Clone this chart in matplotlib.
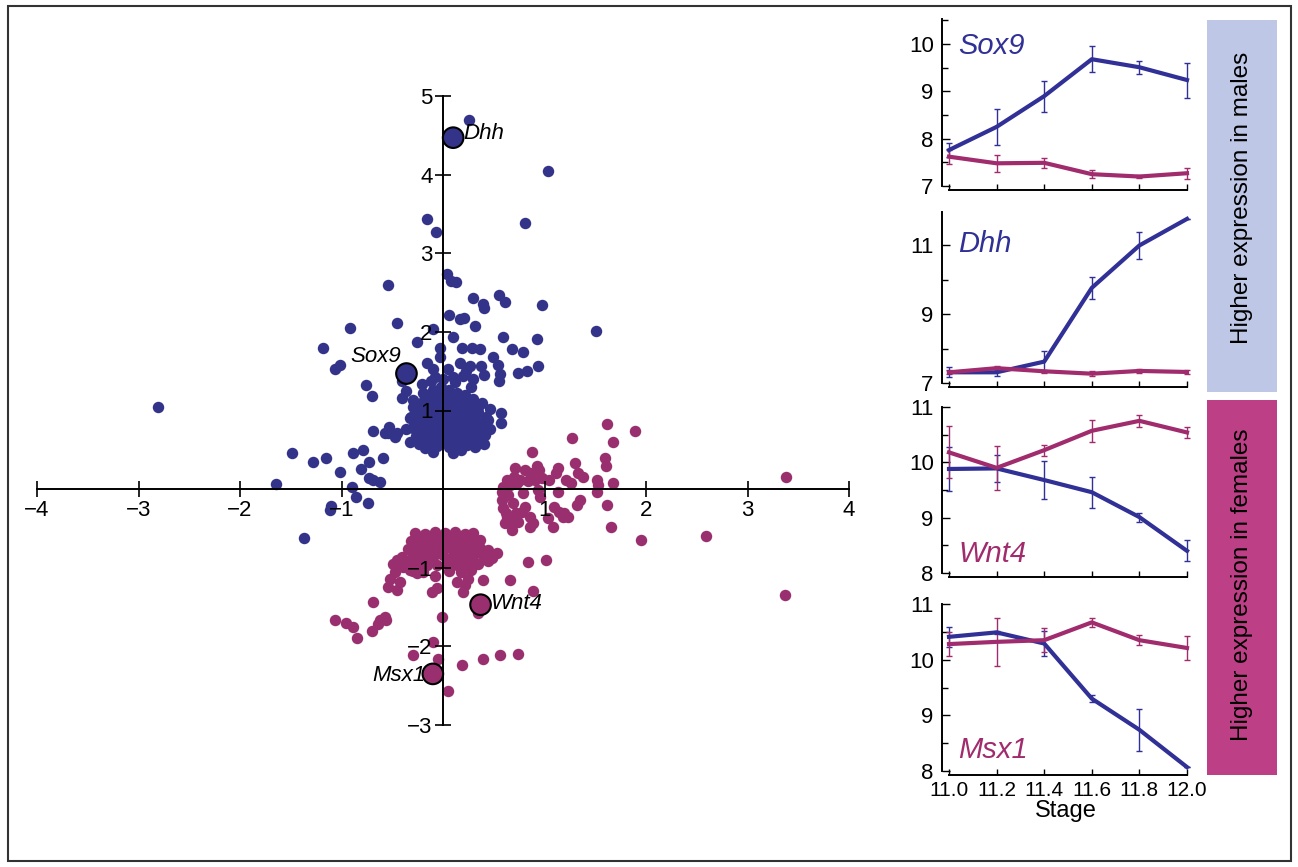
import matplotlib
matplotlib.use('Agg')
import matplotlib.pyplot as plt
from matplotlib.patches import Rectangle

plt.rcParams['font.family'] = ['Liberation Sans', 'DejaVu Sans']

W, H = 1298, 867
BLUE = '#33338a'
MAGENTA = '#992f6e'
LINE_BLUE = '#303096'
LINE_MAG = '#a02c6e'

# scatter points (x, y)
blue_pts = [
    (0.26, 4.69), (1.03, 4.04), (-0.16, 3.44), (-0.07, 3.27), (0.81, 3.38),
    (-0.54, 2.60), (0.04, 2.74), (0.08, 2.65), (0.13, 2.64), (0.30, 2.43),
    (0.39, 2.36), (0.40, 2.30), (0.55, 2.47), (0.61, 2.38), (0.98, 2.34),
    (1.51, 2.01), (-0.92, 2.05), (-0.45, 2.11), (0.06, 2.21), (0.17, 2.16),
    (0.21, 2.18), (0.32, 2.08), (-0.10, 2.04), (0.10, 1.94), (-0.26, 1.87),
    (-1.18, 1.79), (-1.01, 1.58), (-1.06, 1.53), (0.59, 1.93), (0.93, 1.91),
    (0.68, 1.78), (0.79, 1.75), (0.19, 1.80), (0.29, 1.80), (0.36, 1.78),
    (-0.03, 1.80), (-0.03, 1.68), (0.49, 1.68), (0.54, 1.58), (0.56, 1.47),
    (0.55, 1.38), (0.94, 1.56), (0.74, 1.48), (0.83, 1.50), (-0.76, 1.33),
    (-0.70, 1.18), (0.57, 0.97), (0.57, 0.84), (-1.49, 0.46), (-1.28, 0.34),
    (-1.15, 0.39), (-0.89, 0.46), (-0.79, 0.50), (-0.73, 0.34), (-0.59, 0.39),
    (-1.01, 0.22), (-0.81, 0.25), (-0.73, 0.14), (-0.69, 0.11), (-0.62, 0.09),
    (-1.65, 0.06), (-0.90, 0.03), (-0.86, -0.10), (-0.74, -0.18), (-1.10, -0.22),
    (-1.11, -0.27), (-1.37, -0.62), (-2.81, 1.04), (-0.69, 0.74), (-0.54, 0.72),
    (-0.47, 0.66), (-0.33, 0.60), (0.17, 1.61), (0.27, 1.57), (0.37, 1.56),
    (0.40, 1.45), (0.23, 1.50), (0.05, 1.53), (0.10, 1.42), (-0.16, 1.61),
    (-0.10, 1.53), (-0.08, 1.42), (-0.40, 1.38), (-0.36, 1.25), (-0.40, 1.16),
    (-0.30, 1.13), (-0.21, 1.34), (-0.20, 1.22), (-0.53, 0.79), (-0.45, 0.71),
    (-0.57, 0.72), (-0.33, 0.91), (-0.30, 0.78),
    # dense core
    (-0.30, 1.05), (-0.22, 1.10), (-0.14, 1.15), (-0.06, 1.20), (0.02, 1.18),
    (0.10, 1.12), (0.18, 1.08), (0.26, 1.02), (0.34, 0.98), (0.42, 0.92),
    (-0.32, 0.92), (-0.24, 0.96), (-0.16, 1.00), (-0.08, 1.04), (0.00, 1.06),
    (0.08, 1.00), (0.16, 0.95), (0.24, 0.90), (0.32, 0.86), (0.40, 0.80),
    (-0.29, 0.80), (-0.22, 0.84), (-0.14, 0.88), (-0.06, 0.90), (0.02, 0.92),
    (0.10, 0.88), (0.18, 0.84), (0.26, 0.78), (0.34, 0.74), (0.41, 0.69),
    (-0.27, 0.68), (-0.20, 0.72), (-0.12, 0.76), (-0.04, 0.78), (0.04, 0.80),
    (0.12, 0.76), (0.20, 0.72), (0.28, 0.66), (0.36, 0.62), (-0.24, 0.58),
    (-0.16, 0.62), (-0.08, 0.64), (0.00, 0.66), (0.08, 0.64), (0.16, 0.60),
    (0.24, 0.56), (0.32, 0.54), (-0.18, 0.52), (-0.06, 0.55), (0.06, 0.54),
    (0.18, 0.50), (-0.02, 1.30), (0.06, 1.26), (0.14, 1.22), (-0.10, 1.26),
    (0.22, 1.20), (0.30, 1.14), (0.38, 1.10), (0.46, 1.02), (-0.12, 1.38),
    (0.00, 1.40), (0.12, 1.36), (0.28, 1.30), (0.44, 0.88), (0.46, 0.76),
    (0.40, 0.58), (0.10, 0.46), (-0.10, 0.47), (-0.36, 0.76), (0.20, 1.44),
    (0.30, 1.40),
    (-0.26, 1.00), (-0.18, 1.05), (-0.10, 1.10), (-0.02, 1.12), (0.06, 1.08),
    (0.14, 1.04), (0.22, 0.98), (0.30, 0.94), (0.38, 0.86), (-0.26, 0.88),
    (-0.18, 0.92), (-0.10, 0.96), (-0.02, 0.98), (0.06, 0.95), (0.14, 0.91),
    (0.22, 0.86), (0.30, 0.80), (0.38, 0.76), (-0.24, 0.76), (-0.16, 0.80),
    (-0.08, 0.83), (0.00, 0.85), (0.08, 0.83), (0.16, 0.79), (0.24, 0.74),
    (0.32, 0.70), (-0.20, 0.65), (-0.12, 0.69), (-0.04, 0.71), (0.04, 0.72),
    (0.12, 0.69), (0.20, 0.65), (0.28, 0.60), (-0.12, 0.58), (0.02, 0.60),
    (0.12, 0.57), (-0.04, 1.24), (0.08, 1.19), (0.18, 1.15), (0.26, 1.10),
    (0.34, 1.05),
]

magenta_pts = [
    (1.62, 0.83), (1.89, 0.74), (1.27, 0.65), (1.67, 0.60), (0.88, 0.47),
    (1.60, 0.39), (1.61, 0.30), (1.30, 0.33), (0.71, 0.27), (0.81, 0.24),
    (0.86, 0.20), (0.93, 0.30), (0.95, 0.24), (1.13, 0.27), (1.11, 0.20),
    (1.33, 0.20), (1.38, 0.15), (1.21, 0.11), (1.26, 0.08), (1.52, 0.11),
    (1.53, 0.05), (1.67, 0.08), (0.63, 0.11), (0.59, 0.03), (0.58, -0.04),
    (0.66, 0.05), (0.73, 0.08), (0.76, 0.11), (0.91, 0.11), (0.98, 0.14),
    (1.04, 0.11), (0.94, -0.01), (1.13, -0.04), (1.52, -0.04), (0.58, -0.14),
    (0.59, -0.24), (0.63, -0.36), (0.61, -0.43), (0.68, -0.52), (0.79, -0.05),
    (0.81, -0.23), (0.78, -0.29), (0.86, -0.36), (0.89, -0.43), (0.86, -0.48),
    (0.69, -0.18), (0.68, -0.39), (0.74, -0.42), (0.96, -0.10), (1.09, -0.23),
    (1.14, -0.29), (1.18, -0.36), (1.23, -0.36), (1.19, -0.30), (1.35, -0.14),
    (1.32, -0.20), (1.03, -0.37), (1.08, -0.48), (1.62, -0.20), (1.66, -0.48),
    (1.95, -0.65), (3.38, 0.15), (2.59, -0.60), (3.37, -1.35),
    (0.64, -0.08), (0.70, 0.15), (0.84, 0.10), (0.62, -0.30), (0.72, -0.30),
    # lower cluster
    (-0.28, -0.56), (-0.18, -0.57), (-0.08, -0.55), (0.02, -0.56), (0.12, -0.55),
    (0.22, -0.57), (0.30, -0.56), (-0.32, -0.66), (-0.22, -0.65), (-0.12, -0.67),
    (-0.02, -0.66), (0.08, -0.64), (0.18, -0.66), (0.28, -0.67), (0.36, -0.65),
    (-0.34, -0.76), (-0.24, -0.75), (-0.14, -0.77), (-0.04, -0.76), (0.06, -0.74),
    (0.16, -0.76), (0.26, -0.77), (0.36, -0.75), (0.44, -0.77), (-0.40, -0.86),
    (-0.30, -0.85), (-0.20, -0.87), (-0.10, -0.86), (0.00, -0.84), (0.10, -0.86),
    (0.20, -0.87), (0.30, -0.85), (0.40, -0.86), (0.48, -0.88), (-0.36, -0.96),
    (-0.26, -0.95), (-0.16, -0.97), (-0.06, -0.96), (0.04, -0.94), (0.14, -0.96),
    (0.24, -0.97), (0.34, -0.95), (-0.30, -1.04), (-0.20, -1.05), (0.06, -1.04),
    (0.18, -1.05), (0.28, -1.03),
    (-0.23, -0.61), (-0.13, -0.60), (-0.03, -0.61), (0.07, -0.60), (0.17, -0.61),
    (0.26, -0.62), (-0.27, -0.71), (-0.17, -0.71), (-0.07, -0.70), (0.03, -0.70),
    (0.13, -0.71), (0.23, -0.72), (0.32, -0.71), (-0.29, -0.81), (-0.19, -0.81),
    (-0.09, -0.80), (0.11, -0.81), (0.21, -0.81), (0.31, -0.80), (0.41, -0.81),
    (-0.45, -0.90), (-0.35, -0.91), (0.15, -0.91), (0.25, -0.92), (0.44, -0.92),
    (-0.49, -0.95), (-0.52, -1.14), (-0.54, -1.25), (-0.45, -1.28), (-0.39, -0.99),
    (-0.33, -1.03), (-0.26, -1.07), (-0.69, -1.44), (-0.11, -1.31), (-0.06, -1.26),
    (0.14, -1.18), (0.22, -1.22), (0.20, -1.31), (-0.01, -1.63), (0.39, -1.16),
    (0.66, -1.16), (0.84, -0.93), (1.01, -0.90), (0.89, -1.30), (0.32, -0.69),
    (0.39, -0.81), (0.48, -0.86), (0.53, -0.81), (0.34, -1.57), (-0.62, -1.66),
    (-0.57, -1.63), (-1.06, -1.66), (-0.96, -1.70), (-0.89, -1.75), (-0.85, -1.89),
    (-0.70, -1.80), (-0.64, -1.71), (-0.56, -1.66), (-0.10, -1.95), (-0.30, -2.11),
    (-0.05, -2.16), (0.19, -2.24), (0.39, -2.16), (0.56, -2.11), (0.74, -2.10),
    (0.05, -2.57), (0.25, -1.14), (-0.47, -1.05), (-0.42, -1.18), (-0.08, -1.10),
]

# highlighted genes: name, x, y, colour, text offset (points), alignment
highlight_names = ['Dhh', 'Sox9', 'Wnt4', 'Msx1']
highlight_x = [0.10, -0.36, 0.37, -0.10]
highlight_y = [4.47, 1.47, -1.47, -2.35]
highlight_col = [BLUE, BLUE, MAGENTA, MAGENTA]
highlight_off = [(7, 3), (-4, 12), (7, 1), (-5, -1)]
highlight_ha = ['left', 'right', 'left', 'right']

# time-course data
stages = [11.0, 11.2, 11.4, 11.6, 11.8, 12.0]
sox9_male = [7.76, 8.25, 8.90, 9.68, 9.51, 9.24]
sox9_male_err = [0.14, 0.38, 0.33, 0.27, 0.14, 0.37]
sox9_female = [7.62, 7.48, 7.49, 7.25, 7.20, 7.27]
sox9_female_err = [0.15, 0.18, 0.10, 0.09, 0.04, 0.12]
dhh_male = [7.31, 7.31, 7.62, 9.76, 10.99, 11.76]
dhh_male_err = [0.14, 0.10, 0.30, 0.31, 0.38, 0.0]
dhh_female = [7.31, 7.43, 7.34, 7.27, 7.35, 7.32]
dhh_female_err = [0.06, 0.06, 0.04, 0.08, 0.05, 0.06]
wnt4_male = [9.88, 9.89, 9.68, 9.46, 9.01, 8.40]
wnt4_male_err = [0.39, 0.25, 0.34, 0.28, 0.08, 0.19]
wnt4_female = [10.18, 9.90, 10.22, 10.57, 10.75, 10.54]
wnt4_female_err = [0.47, 0.40, 0.10, 0.20, 0.11, 0.10]
msx1_male = [10.41, 10.49, 10.29, 9.30, 8.74, 8.07]
msx1_male_err = [0.18, 0.03, 0.22, 0.06, 0.38, 0.0]
msx1_female = [10.28, 10.32, 10.35, 10.67, 10.35, 10.21]
msx1_female_err = [0.22, 0.43, 0.21, 0.08, 0.09, 0.21]


def fx(px):
    return px / W


def fy(py):
    return 1 - py / H


fig = plt.figure(figsize=(W / 100, H / 100), dpi=100)

# ---- scatter panel ----
ax = fig.add_axes([fx(37), fy(725), (849 - 37) / W, (725 - 96) / H])
ax.set_xlim(-4, 4)
ax.set_ylim(-3, 5)
bx, by = zip(*blue_pts)
mx, my = zip(*magenta_pts)
ax.scatter(bx, by, s=68, color=BLUE, linewidths=0, clip_on=False)
ax.scatter(mx, my, s=68, color=MAGENTA, linewidths=0, clip_on=False)
ax.scatter(highlight_x, highlight_y, s=220, c=highlight_col,
           edgecolors='black', linewidths=1.5, zorder=3, clip_on=False)
for name, x, y, off, ha in zip(highlight_names, highlight_x, highlight_y,
                               highlight_off, highlight_ha):
    ax.annotate(name, (x, y), xytext=off, textcoords='offset points',
                ha=ha, va='center', fontsize=16, style='italic')

for side in ['top', 'right']:
    ax.spines[side].set_visible(False)
ax.spines['left'].set_position(('data', 0))
ax.spines['bottom'].set_position(('data', 0))
for side in ['left', 'bottom']:
    ax.spines[side].set_linewidth(1.4)
ax.set_axisbelow(False)
ax.set_xticks([-4, -3, -2, -1, 1, 2, 3, 4])
ax.set_yticks([-3, -2, -1, 1, 2, 3, 4, 5])
ax.tick_params(direction='inout', length=11, width=1.2, labelsize=16, pad=2)
ax.patch.set_visible(False)

# ---- time-course panels ----
panels = [
    # top px, bottom px, ylim, major, minor, gene, label colour, label y px, male, male_err, female, female_err
    (19, 186, (7, 10.53), [7, 8, 9, 10], [7.5, 8.5, 9.5, 10.5], 'Sox9', LINE_BLUE, 46,
     sox9_male, sox9_male_err, sox9_female, sox9_female_err),
    (212, 383, (7, 11.96), [7, 9, 11], [8, 10], 'Dhh', LINE_BLUE, 244,
     dhh_male, dhh_male_err, dhh_female, dhh_female_err),
    (407, 573, (8, 11), [8, 9, 10, 11], [8.5, 9.5, 10.5], 'Wnt4', LINE_MAG, 554,
     wnt4_male, wnt4_male_err, wnt4_female, wnt4_female_err),
    (604, 771, (8, 11), [8, 9, 10, 11], [8.5, 9.5, 10.5], 'Msx1', LINE_MAG, 750,
     msx1_male, msx1_male_err, msx1_female, msx1_female_err),
]

for i, (top, bot, ylim, major, minor, gene, gcol, gy,
        m, me, f, fe) in enumerate(panels):
    pax = fig.add_axes([fx(942), fy(bot), (1190 - 942) / W, (bot - top) / H])
    pax.set_xlim(10.9706, 12.0126)
    pax.set_ylim(*ylim)
    pax.errorbar(stages, m, yerr=me, color=LINE_BLUE, lw=3, elinewidth=1,
                 capsize=2, capthick=1, clip_on=False)
    pax.errorbar(stages, f, yerr=fe, color=LINE_MAG, lw=3, elinewidth=1,
                 capsize=2, capthick=1, clip_on=False)
    for side in ['top', 'right']:
        pax.spines[side].set_visible(False)
    pax.spines['bottom'].set_position(('outward', 3))
    pax.spines['bottom'].set_bounds(11.0, 12.0)
    pax.spines['left'].set_bounds(*ylim)
    pax.spines['left'].set_linewidth(1.4)
    pax.spines['bottom'].set_linewidth(1.4)
    pax.set_yticks(major)
    pax.set_yticks(minor, minor=True)
    pax.set_xticks(stages)
    pax.tick_params(axis='y', which='major', direction='in', length=6, width=1,
                    labelsize=16, pad=6)
    pax.tick_params(axis='y', which='minor', direction='in', length=4, width=1)
    pax.tick_params(axis='x', direction='in', length=4, width=1, labelsize=15,
                    pad=4)
    if i < 3:
        pax.set_xticklabels([])
    else:
        pax.set_xticklabels(['11.0', '11.2', '11.4', '11.6', '11.8', '12.0'])
        pax.set_xlabel('Stage', fontsize=17, labelpad=0)
    pax.patch.set_visible(False)
    fig.text(fx(958), fy(gy), gene, color=gcol, fontsize=21, style='italic',
             va='center', ha='left')

# ---- side bands ----
fig.patches.append(Rectangle((fx(1207), fy(392)), (1277 - 1207) / W, (392 - 20) / H,
                             transform=fig.transFigure, facecolor='#bfc7e6',
                             edgecolor='none'))
fig.patches.append(Rectangle((fx(1207), fy(775)), (1277 - 1207) / W, (775 - 400) / H,
                             transform=fig.transFigure, facecolor='#bd3f86',
                             edgecolor='none'))
fig.text(fx(1242), fy(198), 'Higher expression in males', rotation=90,
         ha='center', va='center', fontsize=17.5)
fig.text(fx(1242), fy(585), 'Higher expression in females', rotation=90,
         ha='center', va='center', fontsize=17.5)

# frame around the whole figure
fig.patches.append(Rectangle((fx(8), fy(861)), (1291 - 8) / W, (861 - 6) / H,
                             transform=fig.transFigure, fill=False,
                             edgecolor='#333333', linewidth=1.5))

fig.savefig('out.png', dpi=100)
